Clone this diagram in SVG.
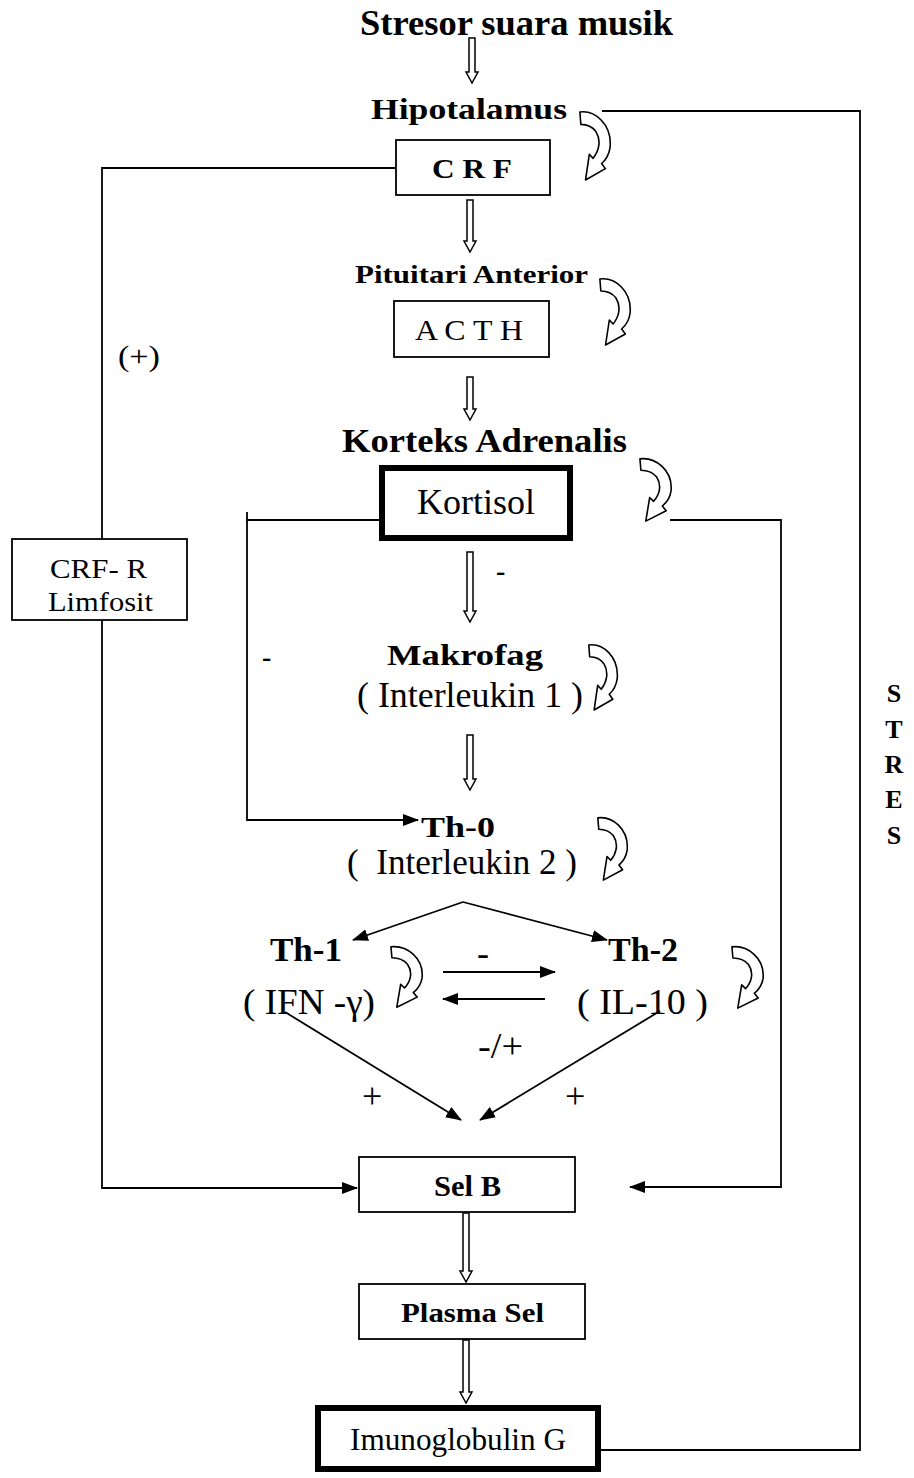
<svg xmlns="http://www.w3.org/2000/svg" width="914" height="1478" viewBox="0 0 914 1478">
<style>
.b{font-family:"Liberation Serif","Times New Roman",serif;font-weight:bold;fill:#000}
.r{font-family:"Liberation Serif","Times New Roman",serif;fill:#000}
.box{fill:#fff;stroke:#000;stroke-width:1.8}
.tbox{fill:#fff;stroke:#000;stroke-width:6}
.ln{fill:none;stroke:#000;stroke-width:1.8}
.ho{fill:#fff;stroke:#000;stroke-width:1.5;stroke-linejoin:miter}
.cv{fill:#fff;stroke:#000;stroke-width:1.6;stroke-linejoin:round}
</style>
<defs>
<marker id="ah" viewBox="0 0 16 12" refX="15" refY="6" markerWidth="16" markerHeight="12" markerUnits="userSpaceOnUse" orient="auto">
<path d="M0,0 L16,6 L0,12 z" fill="#000"/>
</marker>
<symbol id="curl" viewBox="0 0 36 70" preserveAspectRatio="none">
<path class="cv" vector-effect="non-scaling-stroke" d="M2,2 C18,0 36,14 34,36 C33,43 30,48 25,52 L29,57 L8,68 L12,43 L16,47 C22,40 25,30 19,21 C15,16 9,14 3,14 Z"/>
</symbol>
</defs>
<rect width="914" height="1478" fill="#fff"/>

<g id="connectors">
<polygon class="ho" points="469,38 475,38 475,72 478,72 472,83 466,72 469,72"/>
<polygon class="ho" points="467,200 473,200 473,241 476,241 470,252 464,241 467,241"/>
<polygon class="ho" points="467,377 473,377 473,409 476,409 470,420 464,409 467,409"/>
<polygon class="ho" points="467,552 473,552 473,611 476,611 470,622 464,611 467,611"/>
<polygon class="ho" points="467,735 473,735 473,779 476,779 470,790 464,779 467,779"/>
<polygon class="ho" points="463,1213 469,1213 469,1271 472,1271 466,1282 460,1271 463,1271"/>
<polygon class="ho" points="463,1340 469,1340 469,1392 472,1392 466,1403 460,1392 463,1392"/>
<polyline class="ln" points="602,111 860,111 860,1450 598,1450"/>
<polyline class="ln" points="396,168 102,168 102,539"/>
<polyline class="ln" points="102,620 102,1188 357,1188" marker-end="url(#ah)"/>
<polyline class="ln" points="380,520 247,520"/>
<polyline class="ln" points="247,512 247,820 418,820" marker-end="url(#ah)"/>
<polyline class="ln" points="670,520 781,520 781,1187 630,1187" marker-end="url(#ah)"/>
<line class="ln" x1="463" y1="902" x2="353" y2="940" marker-end="url(#ah)"/>
<line class="ln" x1="463" y1="902" x2="607" y2="940" marker-end="url(#ah)"/>
<line class="ln" x1="443" y1="972" x2="555" y2="972" marker-end="url(#ah)"/>
<line class="ln" x1="545" y1="999" x2="443" y2="999" marker-end="url(#ah)"/>
<line class="ln" x1="285" y1="1012" x2="461" y2="1120" marker-end="url(#ah)"/>
<line class="ln" x1="660" y1="1011" x2="480" y2="1120" marker-end="url(#ah)"/>
<use href="#curl" x="578" y="110" width="34" height="72"/>
<use href="#curl" x="598" y="277" width="34" height="70"/>
<use href="#curl" x="638" y="457" width="35" height="66"/>
<use href="#curl" x="587" y="643" width="32" height="69"/>
<use href="#curl" x="596" y="816" width="33" height="66"/>
<use href="#curl" x="389" y="945" width="35" height="64"/>
<use href="#curl" x="730" y="945" width="35" height="65"/>
</g>

<g id="title"><text class="b" x="360" y="35" font-size="35" textLength="313" lengthAdjust="spacingAndGlyphs">Stresor suara musik</text></g>
<g id="hipotalamus"><text class="b" x="371" y="119" font-size="30" textLength="196" lengthAdjust="spacingAndGlyphs">Hipotalamus</text></g>
<g id="crf"><rect class="box" x="396" y="140" width="154" height="55"/><text class="b" x="432" y="178" font-size="28" textLength="80" lengthAdjust="spacingAndGlyphs">C R F</text></g>
<g id="pituitari"><text class="b" x="355" y="283" font-size="25" textLength="233" lengthAdjust="spacingAndGlyphs">Pituitari Anterior</text></g>
<g id="acth"><rect class="box" x="394" y="301" width="155" height="56"/><text class="r" x="415" y="340" font-size="30" textLength="108" lengthAdjust="spacingAndGlyphs">A C T H</text></g>
<g id="korteks"><text class="b" x="342" y="452" font-size="33" textLength="285" lengthAdjust="spacingAndGlyphs">Korteks Adrenalis</text></g>
<g id="kortisol"><rect class="tbox" x="382" y="468" width="188" height="70"/><text class="r" x="417" y="514" font-size="35" textLength="118" lengthAdjust="spacingAndGlyphs">Kortisol</text></g>
<g id="makrofag"><text class="b" x="387" y="665" font-size="30" textLength="156" lengthAdjust="spacingAndGlyphs">Makrofag</text><text class="r" x="357" y="707" font-size="36" textLength="226" lengthAdjust="spacingAndGlyphs">( Interleukin 1 )</text></g>
<g id="th0"><text class="b" x="421" y="837" font-size="30" textLength="74" lengthAdjust="spacingAndGlyphs">Th-0</text><text class="r" x="347" y="874" font-size="36" textLength="230" lengthAdjust="spacingAndGlyphs" xml:space="preserve">(  Interleukin 2 )</text></g>
<g id="th1"><text class="b" x="270" y="961" font-size="33" textLength="72" lengthAdjust="spacingAndGlyphs">Th-1</text><text class="r" x="243" y="1014" font-size="36" textLength="132" lengthAdjust="spacingAndGlyphs">( IFN -γ)</text></g>
<g id="th2"><text class="b" x="608" y="961" font-size="33" textLength="70" lengthAdjust="spacingAndGlyphs">Th-2</text><text class="r" x="577" y="1014" font-size="36" textLength="131" lengthAdjust="spacingAndGlyphs">( IL-10 )</text></g>
<g id="crfr"><rect class="box" x="12" y="539" width="175" height="81"/><text class="r" x="50" y="578" font-size="27" textLength="97" lengthAdjust="spacingAndGlyphs">CRF- R</text><text class="r" x="48" y="611" font-size="27" textLength="105" lengthAdjust="spacingAndGlyphs">Limfosit</text></g>
<g id="selb"><rect class="box" x="359" y="1157" width="216" height="55"/><text class="b" x="434" y="1196" font-size="30" textLength="67" lengthAdjust="spacingAndGlyphs">Sel B</text></g>
<g id="plasma"><rect class="box" x="359" y="1284" width="226" height="55"/><text class="b" x="401" y="1322" font-size="28" textLength="143" lengthAdjust="spacingAndGlyphs">Plasma Sel</text></g>
<g id="igg"><rect class="tbox" x="318" y="1408" width="280" height="61"/><text class="r" x="350" y="1450" font-size="32" textLength="216" lengthAdjust="spacingAndGlyphs">Imunoglobulin G</text></g>

<g id="labels">
<text class="r" x="118" y="366" font-size="30" textLength="42" lengthAdjust="spacingAndGlyphs">(+)</text>
<text class="b" x="496" y="580" font-size="28">-</text>
<text class="b" x="262" y="666" font-size="28">-</text>
<text class="r" x="477" y="965" font-size="36">-</text>
<text class="r" x="478" y="1058" font-size="36" textLength="45" lengthAdjust="spacingAndGlyphs">-/+</text>
<text class="r" x="362" y="1108" font-size="36">+</text>
<text class="r" x="565" y="1108" font-size="36">+</text>
</g>
<g id="stres">
<text class="b" x="894" y="702" font-size="26" text-anchor="middle">S</text>
<text class="b" x="894" y="738" font-size="26" text-anchor="middle">T</text>
<text class="b" x="894" y="773" font-size="26" text-anchor="middle">R</text>
<text class="b" x="894" y="808" font-size="26" text-anchor="middle">E</text>
<text class="b" x="894" y="844" font-size="26" text-anchor="middle">S</text>
</g>
</svg>
